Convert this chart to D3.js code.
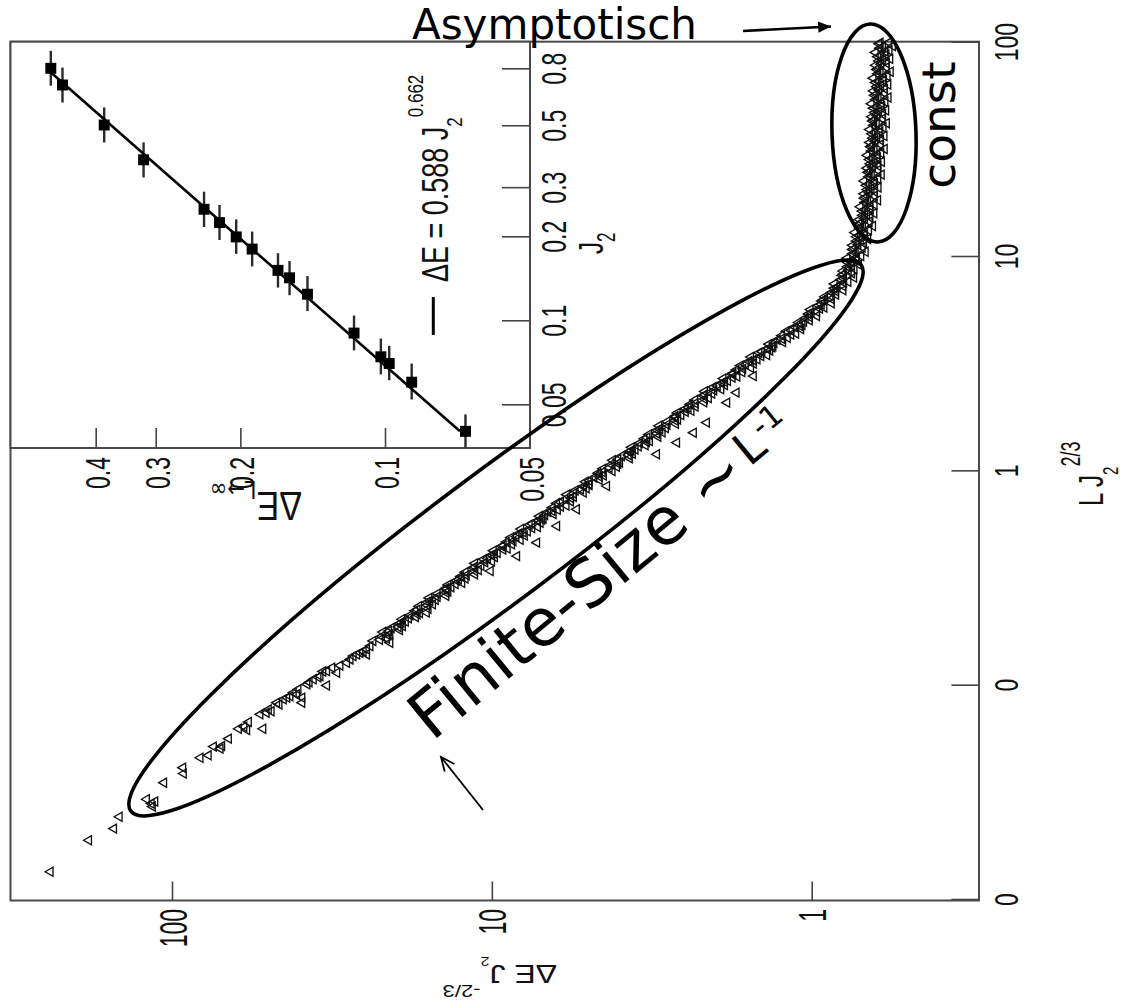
<!DOCTYPE html>
<html>
<head>
<meta charset="utf-8">
<script src="https://cdn.jsdelivr.net/npm/d3@7"></script>
<style>
  html, body { margin: 0; padding: 0; background: #fff; }
  svg { display: block; }
</style>
</head>
<body>
<svg id="fig" width="1125" height="1006"></svg>
<script>
// ---------------------------------------------------------------
// Scaling collapse of the gap: ΔE·J2^(-2/3) against L·J2^(2/3),
// drawn with the L-axis running upward on the right-hand side.
// Each point is [L·J2^(2/3), ΔE·J2^(-2/3)].
// ---------------------------------------------------------------

// axis ticks
const mainTicks = [0.01, 0.1, 1, 10, 100];
const mainTickLabels = ["0", "0", "1", "10", "100"];
const gapTicks = [1, 10, 100];
const gapTickLabels = ["1", "10", "100"];

// small systems: sparse points at the left end of the collapse
const sparsePoints = [
  [0.0134,240],[0.0188,182],[0.0213,152],[0.0242,146],[0.0292,120],[0.0279,116],
  [0.0270,115],[0.0285,113],[0.0349,106],[0.0410,92.4],[0.0385,92.0],[0.0456,81.6],
  [0.0468,76.9],[0.0514,74.1],[0.0503,70.6],[0.0517,69.8],[0.0560,66.5],[0.0623,61.9],
  [0.0637,59.5],[0.0669,57.6],[0.0614,58.3],[0.0623,51.9],[0.0727,53.0],[0.0740,50.7],
  [0.0767,49.9],[0.0751,48.9],[0.0809,46.2],[0.0824,47.0],[0.0854,44.8],[0.0870,43.7],
  [0.0882,42.7],[0.0918,41.7],[0.0901,40.7],[0.0951,40.3],[0.0870,39.2],[0.0824,39.2],
  [0.1003,37.8],[0.1025,37.2],[0.1059,36.1],[0.1082,34.9],[0.1097,34.4],[0.1153,33.7],
  [0.1157,32.8],[0.1200,31.6],[0.0992,32.8],[0.1137,30.5],[0.1230,29.8],[0.1266,28.4],
  [0.1312,27.7],[0.1359,27.1],[0.1384,26.4],[0.1410,25.8],[0.1429,25.2],[0.1461,24.6],
  [0.1514,24.0],[0.1384,24.6],[0.157,20.8]
];

// points lying slightly below the common curve
const offsetPoints = [
  [0.217,16.0],[0.339,10.1],[0.398,8.35],[0.460,7.23],[0.550,6.26],[0.658,5.43],
  [0.845,4.37],[1.188,3.05],[1.347,2.64],[1.499,2.34],[1.670,2.13],[2.070,1.84],
  [2.305,1.72],[2.754,1.52]
];

// finite-size branch, upper edge of the band
const bandUpper = [
  [0.160,23.5],[0.168,22.1],[0.176,21.9],[0.184,20.6],[0.193,19.4],[0.202,19.1],[0.211,18.0],
  [0.221,17.4],[0.232,16.9],[0.243,15.9],[0.254,15.7],[0.266,14.8],[0.279,13.9],[0.292,13.7],
  [0.306,12.9],[0.320,12.5],[0.335,12.1],[0.351,11.4],[0.368,11.3],[0.385,10.6],[0.403,10.0],
  [0.422,9.88],[0.442,9.29],[0.463,9.00],[0.485,8.73],[0.508,8.21],[0.532,8.11],[0.557,7.63],
  [0.583,7.18],[0.611,7.09],[0.640,6.68],[0.670,6.47],[0.702,6.27],[0.735,5.90],[0.770,5.83],
  [0.806,5.48],[0.844,5.16],[0.884,5.10],[0.926,4.79],[0.970,4.65],[1.016,4.50],[1.064,4.23],
  [1.114,4.19],[1.167,3.93],[1.222,3.71],[1.280,3.66],[1.340,3.45],[1.404,3.34],[1.470,3.23],
  [1.540,3.04],[1.613,3.00],[1.689,2.83],[1.769,2.67],[1.853,2.63],[1.940,2.48],[2.032,2.40],
  [2.128,2.32],[2.229,2.18],[2.334,2.16],[2.445,2.03],[2.560,1.91],[2.681,1.89],[2.808,1.77],
  [2.941,1.72],[3.080,1.67],[3.226,1.57],[3.378,1.55],[3.538,1.46],[3.705,1.37],[3.880,1.36],
  [4.064,1.28],[4.256,1.24],[4.457,1.20],[4.668,1.13]
];

// finite-size branch, middle of the band
const bandMiddle = [
  [0.162,22.4],[0.170,21.1],[0.178,21.0],[0.186,19.6],[0.195,19.2],[0.204,18.2],[0.213,17.1],
  [0.224,17.1],[0.235,15.9],[0.246,15.6],[0.257,14.8],[0.269,13.9],[0.282,13.9],[0.295,13.0],
  [0.310,12.7],[0.324,12.0],[0.339,11.3],[0.355,11.3],[0.372,10.5],[0.389,10.3],[0.408,9.80],
  [0.427,9.22],[0.447,9.20],[0.468,8.57],[0.491,8.39],[0.514,7.97],[0.538,7.49],[0.563,7.48],
  [0.590,6.97],[0.618,6.82],[0.647,6.48],[0.678,6.09],[0.710,6.09],[0.743,5.66],[0.779,5.55],
  [0.815,5.27],[0.854,4.96],[0.894,4.95],[0.937,4.61],[0.981,4.51],[1.028,4.29],[1.076,4.03],
  [1.127,4.03],[1.180,3.74],[1.236,3.67],[1.295,3.48],[1.355,3.28],[1.420,3.27],[1.487,3.05],
  [1.558,2.98],[1.632,2.83],[1.708,2.67],[1.789,2.67],[1.874,2.48],[1.962,2.43],[2.055,2.31],
  [2.152,2.16],[2.255,2.16],[2.361,2.02],[2.473,1.97],[2.589,1.87],[2.712,1.77],[2.840,1.76],
  [2.975,1.64],[3.115,1.61],[3.263,1.52],[3.417,1.44],[3.579,1.43],[3.748,1.33],[3.925,1.31],
  [4.111,1.24],[4.305,1.16],[4.508,1.16],[4.722,1.09]
];

// finite-size branch, lower edge of the band
const bandLower = [
  [0.164,21.3],[0.172,20.8],[0.180,19.4],[0.188,19.0],[0.197,18.6],[0.207,17.3],[0.216,16.8],
  [0.226,15.8],[0.237,15.3],[0.249,15.0],[0.260,13.9],[0.272,13.7],[0.285,13.4],[0.299,12.4],
  [0.313,12.1],[0.327,11.3],[0.343,11.0],[0.359,10.8],[0.376,10.0],[0.394,9.80],[0.412,9.60],
  [0.432,8.94],[0.452,8.66],[0.474,8.14],[0.496,7.90],[0.520,7.73],[0.544,7.19],[0.570,7.05],
  [0.596,6.90],[0.625,6.42],[0.655,6.23],[0.685,5.85],[0.718,5.67],[0.752,5.55],[0.788,5.17],
  [0.825,5.06],[0.863,4.96],[0.904,4.61],[0.947,4.47],[0.992,4.20],[1.039,4.07],[1.088,3.98],
  [1.140,3.71],[1.194,3.63],[1.250,3.56],[1.309,3.31],[1.371,3.21],[1.436,3.02],[1.504,2.93],
  [1.575,2.86],[1.650,2.66],[1.728,2.62],[1.810,2.56],[1.896,2.38],[1.985,2.31],[2.079,2.17],
  [2.177,2.10],[2.280,2.05],[2.388,1.92],[2.501,1.87],[2.619,1.83],[2.743,1.71],[2.873,1.65],
  [3.009,1.55],[3.151,1.52],[3.300,1.48],[3.456,1.38],[3.619,1.35],[3.790,1.32],[3.969,1.23],
  [4.157,1.19],[4.354,1.12],[4.560,1.08],[4.775,1.07]
];

// asymptotic plateau, left edge of the band
const plateauLeft = [
  [4.898,1.100],[5.129,1.046],[5.370,1.023],[5.623,1.010],[5.888,0.951],[6.166,0.930],
  [6.457,0.910],[6.761,0.865],[7.079,0.849],[7.413,0.849],[7.762,0.810],[8.128,0.803],
  [8.511,0.798],[8.913,0.773],[9.333,0.770],[9.772,0.775],[10.23,0.745],[10.72,0.745],
  [11.22,0.745],[11.75,0.724],[12.30,0.724],[12.88,0.733],[13.49,0.707],[14.13,0.709],
  [14.79,0.710],[15.49,0.693],[16.22,0.695],[16.98,0.705],[17.78,0.681],[18.62,0.684],
  [19.50,0.687],[20.42,0.671],[21.38,0.675],[22.39,0.686],[23.44,0.663],[24.55,0.666],
  [25.70,0.671],[26.92,0.656],[28.18,0.660],[29.51,0.671],[30.90,0.650],[32.36,0.654],
  [33.88,0.658],[35.48,0.644],[37.15,0.649],[38.90,0.659],[40.74,0.640],[42.66,0.645],
  [44.67,0.649],[46.77,0.635],[48.98,0.641],[51.29,0.651],[53.70,0.631],[56.23,0.636],
  [58.88,0.641],[61.66,0.626],[64.57,0.631],[67.61,0.642],[70.79,0.622],[74.13,0.626],
  [77.62,0.631],[81.28,0.617],[85.11,0.621],[89.13,0.632],[93.33,0.612],[97.72,0.616]
];

// asymptotic plateau, middle of the band
const plateauMiddle = [
  [4.954,1.058],[5.188,1.015],[5.432,1.003],[5.688,0.943],[5.956,0.932],[6.237,0.921],
  [6.531,0.875],[6.839,0.840],[7.160,0.832],[7.498,0.793],[7.851,0.794],[8.221,0.796],
  [8.609,0.767],[9.015,0.750],[9.440,0.755],[9.884,0.723],[10.35,0.730],[10.84,0.737],
  [11.35,0.716],[11.89,0.703],[12.44,0.710],[13.03,0.684],[13.65,0.693],[14.29,0.702],
  [14.96,0.683],[15.67,0.672],[16.41,0.682],[17.18,0.658],[17.98,0.668],[18.83,0.677],
  [19.72,0.661],[20.65,0.651],[21.63,0.662],[22.65,0.640],[23.71,0.650],[24.83,0.660],
  [26.00,0.645],[27.23,0.637],[28.50,0.647],[29.85,0.626],[31.26,0.637],[32.73,0.648],
  [34.27,0.633],[35.89,0.625],[37.58,0.636],[39.35,0.615],[41.21,0.627],[43.15,0.639],
  [45.18,0.624],[47.31,0.617],[49.54,0.628],[51.88,0.608],[54.32,0.619],[56.88,0.629],
  [59.56,0.616],[62.37,0.608],[65.31,0.619],[68.39,0.599],[71.60,0.610],[74.98,0.620],
  [78.51,0.607],[82.21,0.599],[86.09,0.609],[90.15,0.590],[94.40,0.600],[98.84,0.610]
];

// asymptotic plateau, right edge of the band
const plateauRight = [
  [5.011,1.016],[5.247,0.964],[5.494,0.963],[5.752,0.914],[6.023,0.867],[6.308,0.867],
  [6.605,0.840],[6.917,0.797],[7.242,0.799],[7.583,0.769],[7.941,0.738],[8.315,0.749],
  [8.707,0.736],[9.118,0.713],[9.548,0.726],[9.997,0.701],[10.47,0.679],[10.97,0.694],
  [11.48,0.687],[12.02,0.667],[12.58,0.682],[13.18,0.663],[13.80,0.644],[14.45,0.660],
  [15.13,0.656],[15.85,0.638],[16.59,0.655],[17.37,0.637],[18.19,0.621],[19.05,0.637],
  [19.95,0.635],[20.89,0.619],[21.87,0.635],[22.91,0.620],[23.98,0.605],[25.11,0.621],
  [26.29,0.619],[27.54,0.604],[28.83,0.622],[30.19,0.607],[31.61,0.592],[33.10,0.610],
  [34.66,0.608],[36.30,0.593],[38.00,0.611],[39.79,0.597],[41.68,0.583],[43.64,0.601],
  [45.70,0.599],[47.85,0.586],[50.11,0.603],[52.47,0.589],[54.94,0.576],[57.52,0.592],
  [60.23,0.591],[63.08,0.577],[66.05,0.595],[69.17,0.580],[72.42,0.567],[75.84,0.584],
  [79.41,0.583],[83.15,0.569],[87.07,0.585],[91.18,0.572],[95.48,0.558],[99.2,0.574]
];

// inset: extrapolated gap ΔE(L→∞) against J2, with J2 error bars
const insetJ2    = [0.800,0.697,0.501,0.376,0.250,0.224,0.199,0.180,0.151,0.142,0.124,0.090,0.074,0.070,0.060,0.040];
const insetGap   = [0.496,0.469,0.384,0.318,0.238,0.221,0.204,0.189,0.167,0.158,0.145,0.116,0.102,0.098,0.088,0.068];
const insetJ2Lo  = [0.693,0.603,0.434,0.325,0.216,0.194,0.173,0.156,0.131,0.123,0.108,0.078,0.064,0.061,0.052,0.035];
const insetJ2Hi  = [0.924,0.805,0.579,0.434,0.289,0.259,0.230,0.208,0.174,0.163,0.144,0.104,0.086,0.081,0.070,0.046];
const insetJ2Ticks  = [0.05, 0.1, 0.2, 0.3, 0.5, 0.8];
const insetGapTicks = [0.05, 0.1, 0.2, 0.3, 0.4];

// power-law fit ΔE = 0.588 J2^0.662
const fitAmp = 0.588;
const fitExp = 0.662;
const fitRange = [0.04, 0.8];

// ---------------------------------------------------------------
const FONT  = "'Liberation Sans', Arial, Helvetica, sans-serif";
const ANNOT = "'DejaVu Sans', Verdana, sans-serif";
const INK = "#111";

const frame = { left: 10.5, right: 979, top: 41.7, bottom: 900.5 };
const box   = { left: 10.5, right: 530, top: 41.7, bottom: 448 };

const svg = d3.select("#fig");
svg.append("rect").attr("width", 1125).attr("height", 1006).attr("fill", "#fff");

// main scales: L·J2^(2/3) runs upward, ΔE·J2^(-2/3) grows to the left
const scaleLJ  = d3.scaleLog().domain([0.01, 100]).range([899, 41.7]);
const scaleGap = d3.scaleLog().domain([1, 100]).range([811.7, 172]);

// inset scales
const insetJ2Scale  = d3.scaleLog().domain([0.05, 0.8]).range([404.3, 68.3]);
const insetGapScale = d3.scaleLog().domain([0.1, 0.4]).range([385, 95.7]);

// main frame
svg.append("rect")
  .attr("x", frame.left).attr("y", frame.top)
  .attr("width", frame.right - frame.left).attr("height", frame.bottom - frame.top)
  .attr("fill", "none").attr("stroke", "#4a4a4a").attr("stroke-width", 2);

// collapsed data: open triangles
const tri = d3.symbol().type(d3.symbolTriangle).size(36);
const dataLayer = svg.append("g");
[sparsePoints, offsetPoints, bandLower, bandMiddle, bandUpper,
 plateauRight, plateauMiddle, plateauLeft].forEach(series => {
  dataLayer.append("g").selectAll("path").data(series).join("path")
    .attr("d", tri)
    .attr("transform", d => `translate(${scaleGap(d[1])},${scaleLJ(d[0])}) rotate(-90)`)
    .attr("fill", "none")
    .attr("stroke", "#111")
    .attr("stroke-width", 1.35);
});

// helper for restyling axis labels into the rotated, stretched layout
function styleAxis(g, tf, anchor, size, tickW) {
  g.select(".domain").remove();
  g.attr("font-family", null).attr("font-size", null);
  g.selectAll(".tick line").attr("stroke", "#444").attr("stroke-width", tickW);
  g.selectAll(".tick text")
    .attr("x", null).attr("y", null).attr("dy", null)
    .attr("transform", tf)
    .attr("text-anchor", anchor)
    .attr("fill", INK)
    .style("font-family", FONT)
    .style("font-size", size + "px");
}

// main axes
const axisLJ = svg.append("g").attr("transform", `translate(${frame.right},0)`)
  .call(d3.axisRight(scaleLJ).tickValues(mainTicks)
    .tickFormat((d, i) => mainTickLabels[i]).tickSizeInner(-27.6).tickSizeOuter(0));
styleAxis(axisLJ, "translate(39,0) rotate(-90) scale(1,1.45)", "middle", 23, 1.6);

const axisGap = svg.append("g").attr("transform", `translate(0,${frame.bottom})`)
  .call(d3.axisBottom(scaleGap).tickValues(gapTicks)
    .tickFormat((d, i) => gapTickLabels[i]).tickSizeInner(-19).tickSizeOuter(0));
styleAxis(axisGap, "translate(14,8.5) rotate(-90) scale(1,1.7)", "end", 23, 1.6);

// main axis titles
const titleLJ = svg.append("text")
  .attr("transform", "translate(1103,506) rotate(-90) scale(1,1.5)")
  .style("font-family", FONT).style("font-size", "24px").attr("fill", INK);
titleLJ.append("tspan").text("L J");
titleLJ.append("tspan").attr("dy", 10).style("font-size", "15px").text("2");
titleLJ.append("tspan").attr("dy", -25.3).style("font-size", "18px").text("2/3");

const titleGap = svg.append("text")
  .attr("transform", "translate(557,965) rotate(180) scale(1,0.78)")
  .style("font-family", FONT).style("font-size", "32px").attr("fill", INK);
titleGap.append("tspan").text("ΔE J");
titleGap.append("tspan").attr("dy", 10).style("font-size", "16px").text("2");
titleGap.append("tspan").attr("dy", -35.6).style("font-size", "22px").text("-2/3");

// ---------------- inset ----------------
const inset = svg.append("g");
inset.append("rect")
  .attr("x", box.left).attr("y", box.top)
  .attr("width", box.right - box.left).attr("height", box.bottom - box.top)
  .attr("fill", "#fff").attr("stroke", "#4a4a4a").attr("stroke-width", 2);

const axisJ2 = inset.append("g").attr("transform", `translate(${box.right},0)`)
  .call(d3.axisRight(insetJ2Scale).tickValues(insetJ2Ticks)
    .tickFormat(d3.format("")).tickSizeInner(-28).tickSizeOuter(0));
styleAxis(axisJ2, "translate(36,0) rotate(-90) scale(1,1.5)", "middle", 23, 1.6);

const axisInsetGap = inset.append("g").attr("transform", `translate(0,${box.bottom})`)
  .call(d3.axisBottom(insetGapScale).tickValues(insetGapTicks)
    .tickFormat(d3.format("")).tickSizeInner(-20).tickSizeOuter(0));
styleAxis(axisInsetGap, "translate(13.5,9) rotate(-90) scale(1,1.55)", "end", 23, 1.6);

// inset axis titles
const titleJ2 = inset.append("text")
  .attr("transform", "translate(603,254) rotate(-90) scale(1,1.5)")
  .style("font-family", FONT).style("font-size", "24px").attr("fill", INK);
titleJ2.append("tspan").text("J");
titleJ2.append("tspan").attr("dy", 8).style("font-size", "17px").text("2");

const titleInf = inset.append("text")
  .attr("transform", "translate(302,492) rotate(180) scale(1,1.2)")
  .style("font-family", FONT).style("font-size", "34px").attr("fill", INK);
titleInf.append("tspan").text("ΔE");
titleInf.append("tspan").attr("dy", 9).style("font-size", "21px")
  .style("font-family", "'DejaVu Sans', sans-serif").text("L→∞");

// error bars
inset.append("g").selectAll("line").data(insetJ2).join("line")
  .attr("x1", (d, i) => insetGapScale(insetGap[i]))
  .attr("x2", (d, i) => insetGapScale(insetGap[i]))
  .attr("y1", (d, i) => insetJ2Scale(insetJ2Lo[i]))
  .attr("y2", (d, i) => insetJ2Scale(insetJ2Hi[i]))
  .attr("stroke", "#2b2b2b").attr("stroke-width", 2.4);

// fit line
const fitLine = d3.line()
  .x(j => insetGapScale(fitAmp * Math.pow(j, fitExp)))
  .y(j => insetJ2Scale(j));
inset.append("path").attr("d", fitLine(fitRange))
  .attr("fill", "none").attr("stroke", "#000").attr("stroke-width", 2.6);

// squares
const sq = d3.symbol().type(d3.symbolSquare).size(120);
inset.append("g").selectAll("path").data(insetJ2).join("path")
  .attr("d", sq)
  .attr("transform", (d, i) => `translate(${insetGapScale(insetGap[i])},${insetJ2Scale(d)})`)
  .attr("fill", "#000");

// legend
inset.append("line").attr("x1", 433.3).attr("x2", 433.3).attr("y1", 297).attr("y2", 335)
  .attr("stroke", "#000").attr("stroke-width", 3);
const legend = inset.append("text")
  .attr("transform", "translate(448,282) rotate(-90) scale(1,1.35)")
  .style("font-family", FONT).style("font-size", "27px").attr("fill", INK);
legend.append("tspan").text(`ΔE = ${fitAmp} J`);
legend.append("tspan").attr("dy", 10.4).style("font-size", "17px").text("2");
legend.append("tspan").attr("dy", -28.9).style("font-size", "17px").text(String(fitExp));

// ---------------- annotations ----------------
const notes = svg.append("g");

// region outlines
notes.append("ellipse")
  .attr("transform", "translate(496,538) rotate(-36.8)")
  .attr("rx", 456).attr("ry", 64)
  .attr("fill", "none").attr("stroke", "#000").attr("stroke-width", 3.6);
notes.append("ellipse")
  .attr("transform", "translate(874,133) rotate(-2)")
  .attr("rx", 42).attr("ry", 109)
  .attr("fill", "none").attr("stroke", "#000").attr("stroke-width", 3.6);

function arrow(from, to, width, head, filled) {
  notes.append("line")
    .attr("x1", from[0]).attr("y1", from[1]).attr("x2", to[0]).attr("y2", to[1])
    .attr("stroke", "#000").attr("stroke-width", width);
  const a = Math.atan2(from[1] - to[1], from[0] - to[0]);
  const s = 0.42;
  const p1 = [to[0] + head * Math.cos(a + s), to[1] + head * Math.sin(a + s)];
  const p2 = [to[0] + head * Math.cos(a - s), to[1] + head * Math.sin(a - s)];
  if (filled) {
    notes.append("path").attr("d", `M${to}L${p1}L${p2}Z`).attr("fill", "#000");
  } else {
    notes.append("path").attr("d", `M${p1}L${to}L${p2}`)
      .attr("fill", "none").attr("stroke", "#000").attr("stroke-width", width);
  }
}
arrow([743, 31], [831, 26.5], 2.6, 14, true);
arrow([483, 810], [441, 757], 1.8, 15, false);

notes.append("text").attr("x", 412).attr("y", 39)
  .style("font-family", ANNOT).style("font-size", "42px").attr("fill", "#000")
  .text("Asymptotisch");

notes.append("text")
  .attr("transform", "translate(955,125) rotate(-90)")
  .attr("text-anchor", "middle")
  .style("font-family", ANNOT).style("font-size", "47px").attr("fill", "#000")
  .text("const");

const fs = notes.append("text")
  .attr("transform", "translate(432,742) rotate(-39.5)")
  .style("font-family", ANNOT).style("font-size", "66px").attr("fill", "#000");
fs.append("tspan").text("Finite-Size ~");
fs.append("tspan").attr("dx", 6).attr("dy", -10).style("font-size", "46px").text("L");
fs.append("tspan").attr("dx", 2).attr("dy", -15).style("font-size", "31px").text("-1");
</script>
</body>
</html>
